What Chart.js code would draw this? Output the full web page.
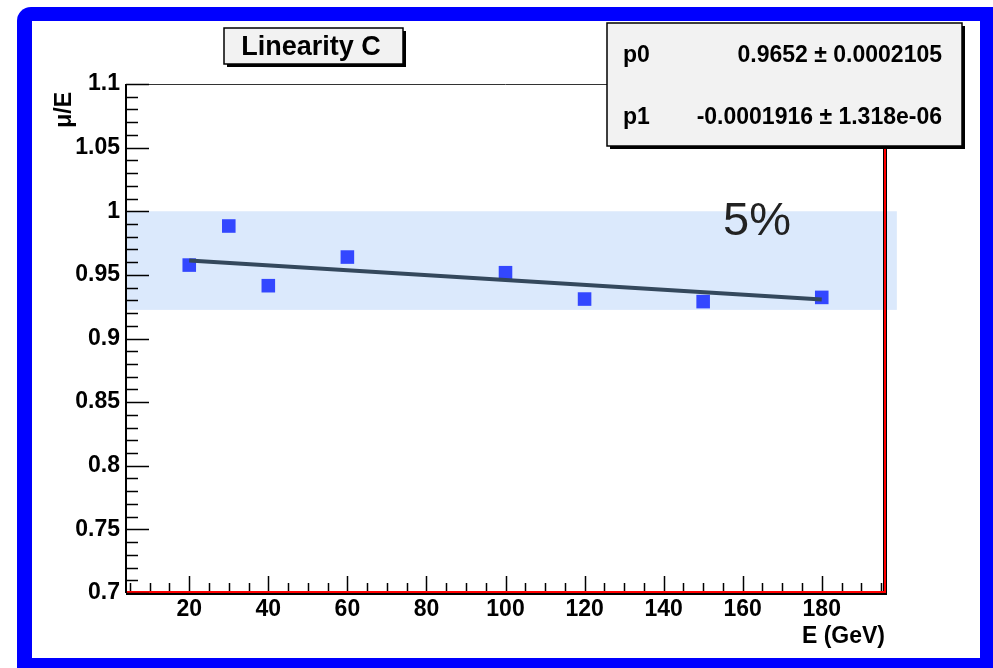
<!DOCTYPE html>
<html>
<head>
<meta charset="utf-8">
<script src="https://cdn.jsdelivr.net/npm/chart.js@4"></script>
<style>
  html, body { margin: 0; padding: 0; background: #fff; }
</style>
</head>
<body>
<canvas id="linChart" width="993" height="668"></canvas>
<script>
// measured points (E in GeV, mu/E)
var energies = [20, 30, 40, 60, 100, 120, 150, 180];
var response = [0.9577, 0.9884, 0.9415, 0.9640, 0.9517, 0.9310, 0.9290, 0.9323];
var xTicks = [20, 40, 60, 80, 100, 120, 140, 160, 180];
var yTicks = [0.7, 0.75, 0.8, 0.85, 0.9, 0.95, 1, 1.05, 1.1];
var yTickLabels = ['0.7', '0.75', '0.8', '0.85', '0.9', '0.95', '1', '1.05', '1.1'];
// pol1 fit shown in the stats box
var fitPars = [0.9652, -0.0001916];
var fitRange = [20, 180];
var statNames = ['p0', 'p1'];
var statValues = ['0.9652 \u00b1 0.0002105', '-0.0001916 \u00b1 1.318e-06'];
// shaded 5% band
var bandX = [4, 199];
var bandY = [0.9225, 1.0];

var FONT = "'Liberation Sans', Arial, Helvetica, sans-serif";

var points = energies.map(function (e, i) { return { x: e, y: response[i] }; });
var fitLine = fitRange.map(function (e) { return { x: e, y: fitPars[0] + fitPars[1] * e }; });

function box(ctx, x, y, w, h, sh) {
    ctx.fillStyle = '#000';
    ctx.fillRect(x + sh, y + sh, w, h);
    ctx.fillStyle = '#f2f2f2';
    ctx.fillRect(x, y, w, h);
    ctx.strokeStyle = '#000';
    ctx.lineWidth = 1.5;
    ctx.strokeRect(x, y, w, h);
}

var rootStyle = {
    id: 'rootStyle',
    beforeDraw: function (chart) {
        var ctx = chart.ctx;
        ctx.save();
        ctx.fillStyle = '#fff';
        ctx.fillRect(0, 0, 993, 668);
        ctx.fillStyle = '#0000ff';
        ctx.beginPath();
        ctx.roundRect(17, 7, 990, 675, 14);
        ctx.fill();
        ctx.fillStyle = '#fff';
        ctx.fillRect(32, 21, 948, 637);
        ctx.restore();
    },
    beforeDatasetsDraw: function (chart) {
        var ctx = chart.ctx, xs = chart.scales.x, ys = chart.scales.y;
        var x0 = xs.getPixelForValue(bandX[0]), x1 = xs.getPixelForValue(bandX[1]);
        var y0 = ys.getPixelForValue(bandY[1]), y1 = ys.getPixelForValue(bandY[0]);
        ctx.save();
        ctx.fillStyle = '#dbe9fc';
        ctx.fillRect(x0, y0, x1 - x0, y1 - y0);
        ctx.restore();
    },
    afterDraw: function (chart) {
        var ctx = chart.ctx, a = chart.chartArea, xs = chart.scales.x, ys = chart.scales.y;
        ctx.save();

        // frame
        ctx.strokeStyle = '#333';
        ctx.lineWidth = 1;
        ctx.beginPath();
        ctx.moveTo(a.left, a.top + 0.5);
        ctx.lineTo(a.right, a.top + 0.5);
        ctx.stroke();
        ctx.strokeStyle = '#000';
        ctx.lineWidth = 2;
        ctx.beginPath();
        ctx.moveTo(a.left, a.top);
        ctx.lineTo(a.left, a.bottom);
        ctx.stroke();
        ctx.lineWidth = 4;
        ctx.beginPath();
        ctx.moveTo(a.left, a.bottom);
        ctx.lineTo(a.right, a.bottom);
        ctx.lineTo(a.right, a.top);
        ctx.stroke();
        ctx.strokeStyle = '#ff0000';
        ctx.lineWidth = 2;
        ctx.beginPath();
        ctx.moveTo(a.left + 1, a.bottom - 1);
        ctx.lineTo(a.right, a.bottom - 1);
        ctx.lineTo(a.right, a.top);
        ctx.stroke();

        // inward ticks
        ctx.strokeStyle = '#000';
        ctx.lineWidth = 1.5;
        ctx.beginPath();
        for (var i = 70; i <= 110; i++) {
            var py = Math.round(ys.getPixelForValue(i / 100)) + 0.5;
            var len = (i % 5 === 0) ? 23 : 12;
            ctx.moveTo(a.left, py);
            ctx.lineTo(a.left + len, py);
        }
        for (var e = 5; e <= 195; e += 5) {
            var px = Math.round(xs.getPixelForValue(e)) + 0.5;
            var tl = (e % 20 === 0) ? 15 : 8;
            ctx.moveTo(px, a.bottom - 2);
            ctx.lineTo(px, a.bottom - 2 - tl);
        }
        ctx.stroke();

        // title box
        box(ctx, 224, 28, 179, 36, 3);
        ctx.fillStyle = '#000';
        ctx.font = 'bold 27px ' + FONT;
        ctx.textAlign = 'center';
        ctx.textBaseline = 'alphabetic';
        ctx.fillText('Linearity C', 311, 55);

        // stats box
        box(ctx, 607, 23, 355, 123, 3);
        ctx.font = 'bold 23px ' + FONT;
        ctx.fillStyle = '#000';
        for (var k = 0; k < statNames.length; k++) {
            var by = 62 + k * 62;
            ctx.textAlign = 'left';
            ctx.fillText(statNames[k], 623, by);
            ctx.textAlign = 'right';
            ctx.fillText(statValues[k], 942, by);
        }

        // band label
        ctx.font = '47px ' + FONT;
        ctx.fillStyle = '#222';
        ctx.textAlign = 'left';
        ctx.fillText('5%', 723, 235);

        // axis titles
        ctx.fillStyle = '#000';
        ctx.font = 'bold 23px ' + FONT;
        ctx.textAlign = 'right';
        ctx.fillText('E (GeV)', a.right, 643);
        ctx.translate(65, 92);
        ctx.rotate(-Math.PI / 2);
        ctx.textBaseline = 'middle';
        ctx.fillText('\u03bc/E', 0, 0);

        ctx.restore();
    }
};

var ctx = document.getElementById('linChart').getContext('2d');
var myChart = new Chart(ctx, {
    type: 'scatter',
    data: {
        datasets: [
            {
                type: 'line',
                label: 'fit',
                data: fitLine,
                borderColor: '#34485c',
                borderWidth: 4,
                pointRadius: 0,
                order: 0
            },
            {
                label: 'mu/E',
                data: points,
                pointStyle: 'rect',
                pointRadius: 9.6,
                backgroundColor: '#3347ff',
                borderWidth: 0,
                order: 1
            }
        ]
    },
    options: {
        responsive: false,
        animation: false,
        devicePixelRatio: 1,
        layout: { padding: { left: 0, top: 84, right: 108, bottom: 0 } },
        scales: {
            x: {
                type: 'linear',
                min: 4,
                max: 196,
                grid: { display: false, drawTicks: false },
                border: { display: false },
                ticks: {
                    color: '#000',
                    padding: 3,
                    maxRotation: 0,
                    autoSkip: false,
                    font: { family: FONT, size: 23, weight: 'bold' },
                    callback: function (v) { return String(v); }
                },
                afterBuildTicks: function (s) {
                    s.ticks = xTicks.map(function (v) { return { value: v }; });
                },
                afterFit: function (s) { s.height = 75; }
            },
            y: {
                type: 'linear',
                min: 0.7,
                max: 1.1,
                grid: { display: false, drawTicks: false },
                border: { display: false },
                ticks: {
                    color: '#000',
                    padding: 6,
                    autoSkip: false,
                    font: { family: FONT, size: 23, weight: 'bold' },
                    callback: function (v, i) { return yTickLabels[i]; }
                },
                afterBuildTicks: function (s) {
                    s.ticks = yTicks.map(function (v) { return { value: v }; });
                },
                afterFit: function (s) { s.width = 126; }
            }
        },
        plugins: {
            legend: { display: false },
            tooltip: { enabled: false },
            title: { display: false }
        }
    },
    plugins: [rootStyle]
});
</script>
</body>
</html>
